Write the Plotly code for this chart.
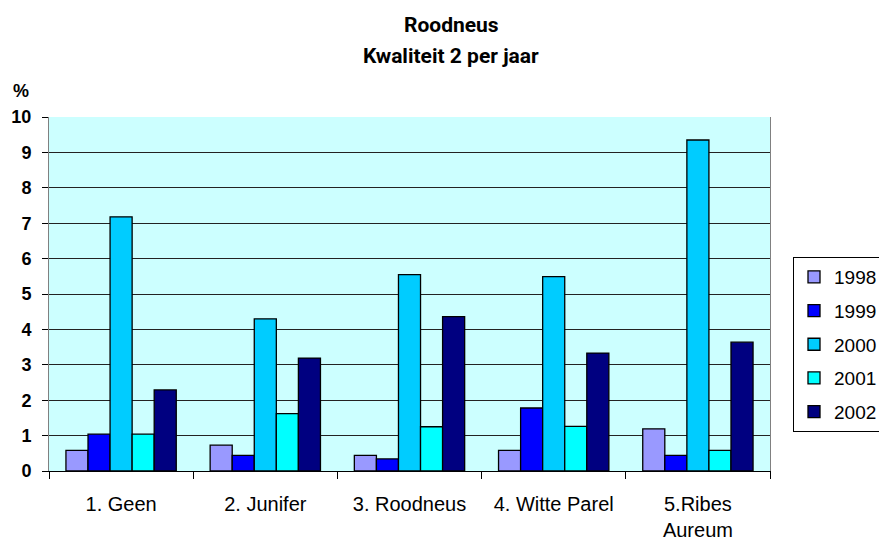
import plotly.graph_objects as go

categories = ['1. Geen', '2. Junifer', '3. Roodneus', '4. Witte Parel', '5.Ribes<br>Aureum']
years = ['1998', '1999', '2000', '2001', '2002']

v1998 = [0.58, 0.73, 0.44, 0.58, 1.19]
v1999 = [1.04, 0.44, 0.34, 1.78, 0.44]
v2000 = [7.18, 4.30, 5.55, 5.49, 9.35]
v2001 = [1.04, 1.62, 1.25, 1.26, 0.58]
v2002 = [2.29, 3.19, 4.36, 3.33, 3.64]

series = [v1998, v1999, v2000, v2001, v2002]
colors = ['#9999FF', '#0000FF', '#00CCFF', '#00FFFF', '#000080']

fig = go.Figure()
for year, vals, col in zip(years, series, colors):
    fig.add_trace(go.Bar(
        x=categories, y=vals, name=year, legendgroup=year,
        marker=dict(color=col, line=dict(color='black', width=1.3)),
    ))

# the page body adds an 8px offset, so the figure is 8px smaller each way
fig.update_layout(
    width=879, height=535,
    margin=dict(l=41, r=117, t=109, b=72, autoexpand=False),
    paper_bgcolor='white',
    plot_bgcolor='#CCFFFF',
    barmode='group', bargap=0.235, bargroupgap=0,
    legend=dict(
        x=1.0319, xanchor='left', y=0.6045, yanchor='top',
        bordercolor='black', borderwidth=1, bgcolor='white',
        traceorder='grouped', tracegroupgap=6,
        font=dict(family='Liberation Sans', size=19, color='black'),
        itemwidth=30,
    ),
    showlegend=True,
)

fig.update_yaxes(
    range=[0, 10], dtick=1,
    showgrid=True, gridcolor='#222222', gridwidth=1,
    ticks='outside', ticklen=6, tickcolor='black', ticklabelstandoff=7,
    showline=True, linecolor='#808080', linewidth=1, mirror=True,
    tickfont=dict(family='Liberation Sans', size=18, color='black', weight='bold'),
    zeroline=False,
)
fig.update_xaxes(
    ticks='outside', tickson='boundaries', ticklen=7, tickcolor='black',
    ticklabelstandoff=15,
    showline=True, linecolor='black', linewidth=1,
    tickfont=dict(family='Liberation Sans', size=20, color='black'),
)

title_font = dict(family='Roboto', size=21, color='black')
fig.add_annotation(text='<b>Roodneus</b>', xref='paper', yref='paper',
                   x=0.5576, y=1.2585, xanchor='center', yanchor='middle',
                   showarrow=False, font=title_font)
fig.add_annotation(text='<b>Kwaliteit 2 per jaar</b>', xref='paper', yref='paper',
                   x=0.5576, y=1.1737, xanchor='center', yanchor='middle',
                   showarrow=False, font=title_font)

fig.add_annotation(
    text='<b>%</b>', xref='paper', yref='paper',
    x=-0.039, y=1.0734, xanchor='center', yanchor='middle', showarrow=False,
    font=dict(family='Liberation Sans', size=18, color='black'),
)

fig.write_html('out.html')
